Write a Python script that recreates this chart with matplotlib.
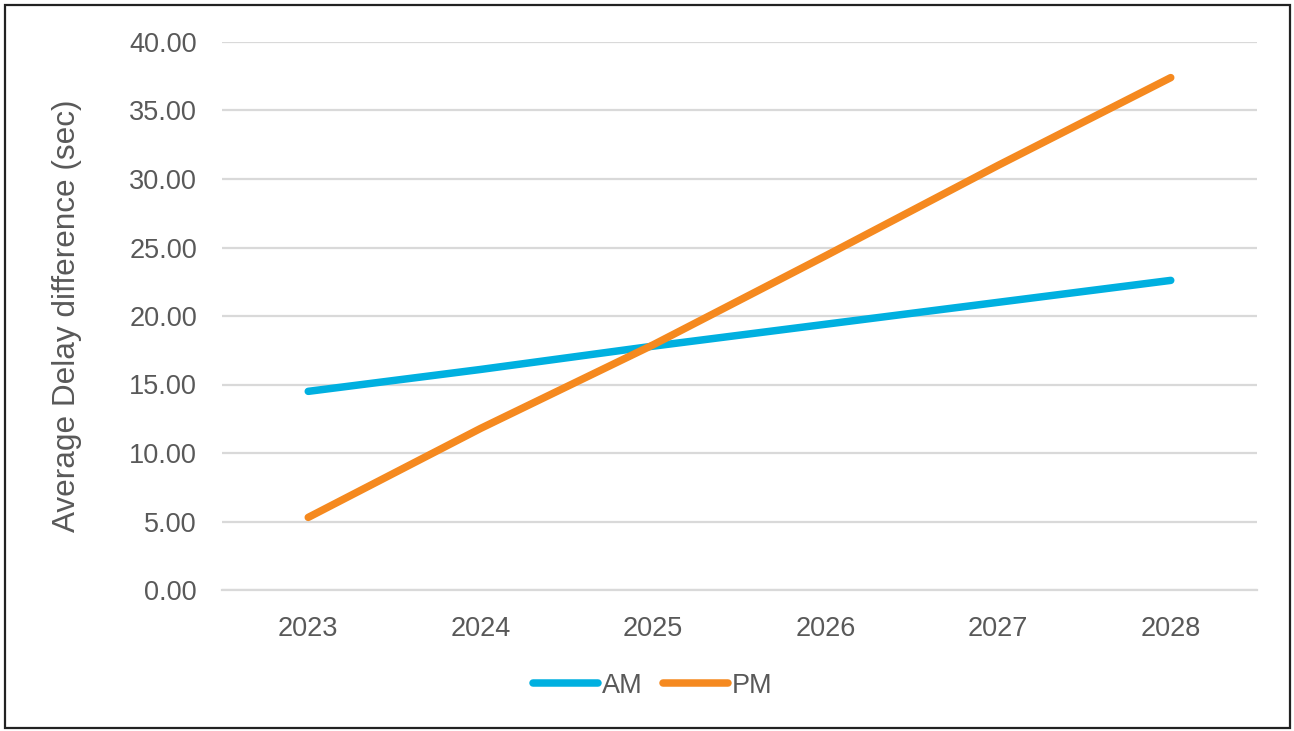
import matplotlib
matplotlib.use('Agg')
import matplotlib.pyplot as plt
from matplotlib.patches import Rectangle

# 年ごとの平均遅延差（秒）
years = ['2023', '2024', '2025', '2026', '2027', '2028']
am_delay = [14.5, 16.1, 17.8, 19.4, 21.0, 22.6]
pm_delay = [5.3, 11.8, 17.9, 24.4, 31.0, 37.4]
y_ticks = [0, 5, 10, 15, 20, 25, 30, 35, 40]

plt.rcParams['font.family'] = ['Liberation Sans', 'DejaVu Sans']
text_color = '#595959'
grid_color = '#D9D9D9'

fig = plt.figure(figsize=(12.94, 7.31), dpi=100)
ax = fig.add_axes([222 / 1294, 141 / 731, 1035 / 1294, 548 / 731])

x = range(len(years))
ax.plot(x, am_delay, color='#00B0E0', lw=5.4, solid_capstyle='round', label='AM', zorder=3)
ax.plot(x, pm_delay, color='#F5891F', lw=5.4, solid_capstyle='round', label='PM', zorder=3)

ax.set_xlim(-0.5, len(years) - 0.5)
ax.set_ylim(0, 40)
ax.set_xticks(list(x))
ax.set_xticklabels(years)
ax.set_yticks(y_ticks)
ax.set_yticklabels([f'{v:.2f}' for v in y_ticks])

ax.yaxis.grid(True, color=grid_color, lw=1.6)
ax.set_axisbelow(True)
for side in ['top', 'right', 'left']:
    ax.spines[side].set_visible(False)
ax.spines['bottom'].set_color(grid_color)
ax.spines['bottom'].set_linewidth(1.6)
ax.tick_params(axis='both', length=0, labelsize=19.5, colors=text_color)
ax.tick_params(axis='x', pad=19)
ax.tick_params(axis='y', pad=18)

ax.set_ylabel('Average Delay difference (sec)', fontsize=22.7, color=text_color)
ax.yaxis.set_label_coords(-0.135, 0.5)

leg = ax.legend(loc='center', bbox_to_anchor=(0.5046, 0.0616), bbox_transform=fig.transFigure,
                ncol=2, frameon=False, fontsize=19.5, handlelength=2.4,
                handletextpad=0.15, columnspacing=0.75)
for t in leg.get_texts():
    t.set_color(text_color)

# 外枠
fig.patches.append(Rectangle((5 / 1294, 3 / 731), 1285 / 1294, 723 / 731,
                             transform=fig.transFigure, fill=False,
                             edgecolor='#222222', lw=1.6))

fig.savefig('out.png', dpi=100)
